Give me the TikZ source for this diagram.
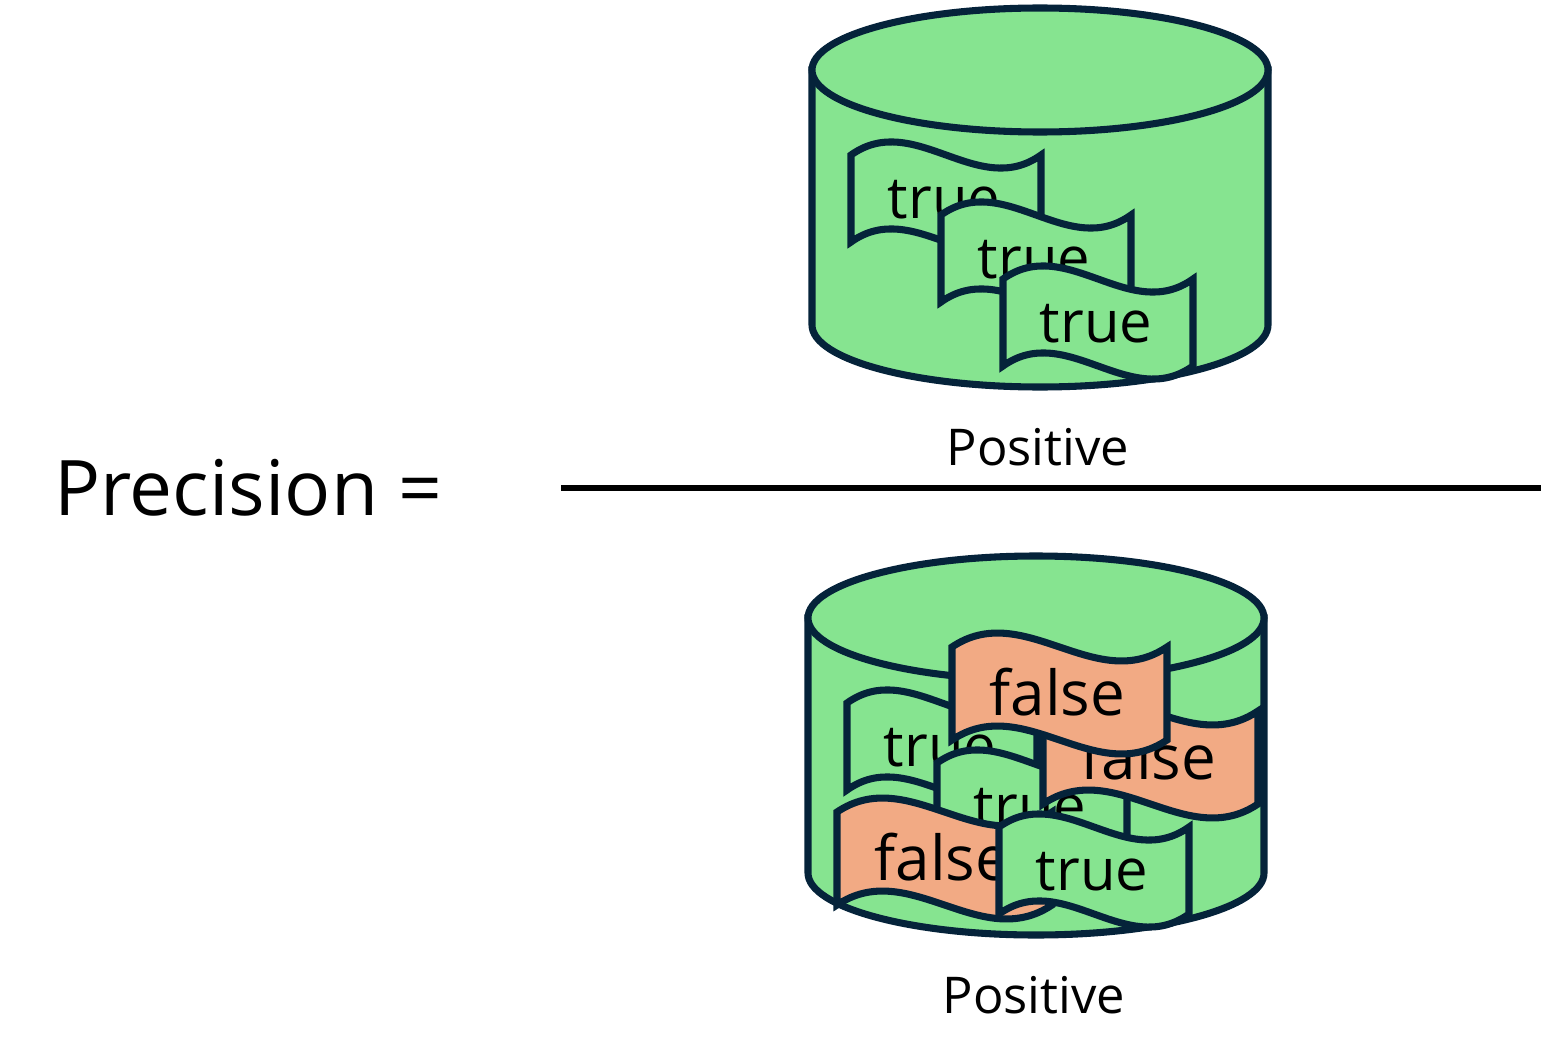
\documentclass[tikz,border=0pt]{standalone}
\usepackage{fontspec}
\setmainfont{Open Sans}
\definecolor{canfill}{HTML}{86E490}
\definecolor{falsefill}{HTML}{F2AA84}
\definecolor{edgeblue}{HTML}{05233A}
\tikzset{
  canline/.style={draw=edgeblue,line width=5.3pt,fill=canfill},
  wavetext/.style={anchor=base,inner sep=0},
  cantext/.style={anchor=base,inner sep=0,font=\fontsize{38}{38}\selectfont},
}
% #1 name, #2 left, #3 top, #4 width, #5 height, #6 fill, #7 text
\newcommand{\wavenote}[7]{
  \begin{scope}[shift={(#2,#3)}]
    \pgfmathsetmacro{\wa}{#4/3}
    \pgfmathsetmacro{\wb}{2*#4/3}
    \pgfmathsetmacro{\kk}{#5*0.52}
    \pgfmathsetmacro{\hb}{#5+\kk}
    \pgfmathsetmacro{\hc}{#5-\kk}
    \pgfmathsetmacro{\mx}{#4/2-2}
    \pgfmathsetmacro{\my}{#5*0.71+2}
    \pgfmathsetmacro{\fs}{#5/2}
    \path[canline,fill=#6] (0,0) .. controls (\wa,-\kk) and (\wb,\kk) .. (#4,0)
      -- (#4,#5) .. controls (\wb,\hb) and (\wa,\hc) .. (0,#5) -- cycle;
    \node (#1) at (\mx,\my) [wavetext,font=\fontsize{\fs}{\fs}\selectfont]{#7};
  \end{scope}
}
% #1 name, #2 centre x, #3 top centre y
\newcommand{\canshape}[3]{
  \begin{scope}[shift={(#2,#3)}]
    \path[canline] (-228,0) -- (-228,255) arc[start angle=180,end angle=0,x radius=228,y radius=62]
      -- (228,0) -- cycle;
    \path[canline] (0,0) ellipse[x radius=228,y radius=62];
    \node (#1) at (-2,395) [cantext]{Positive};
  \end{scope}
}
\begin{document}
\begin{tikzpicture}[x=0.75pt,y=-0.75pt]
  \useasboundingbox (0,0) rectangle (1549,1063);

  \node (precision) at (248,515) [anchor=base,inner sep=0,font=\fontsize{57.5}{58}\selectfont]{Precision =};

  \coordinate (barleft) at (561,488);
  \coordinate (barright) at (1541,488);
  \draw[line width=5pt] (barleft) -- (barright);

  % upper can
  \canshape{numer}{1040}{70}
  \wavenote{numtrue1}{851}{155}{190}{87}{canfill}{true}
  \wavenote{numtrue2}{941}{215}{190}{87}{canfill}{true}
  \wavenote{numtrue3}{1003}{279}{190}{87}{canfill}{true}

  % lower can
  \canshape{denom}{1036}{618}
  \wavenote{dentrue1}{847}{703}{190}{87}{canfill}{true}
  \wavenote{dentrue2}{937}{763}{190}{87}{canfill}{true}
  \wavenote{denfalse1}{1043}{711}{215}{93}{falsefill}{false}
  \wavenote{denfalse2}{952}{647}{215}{93}{falsefill}{false}
  \wavenote{denfalse3}{837}{812}{215}{93}{falsefill}{false}
  \wavenote{dentrue3}{999}{827}{190}{87}{canfill}{true}
\end{tikzpicture}
\end{document}
